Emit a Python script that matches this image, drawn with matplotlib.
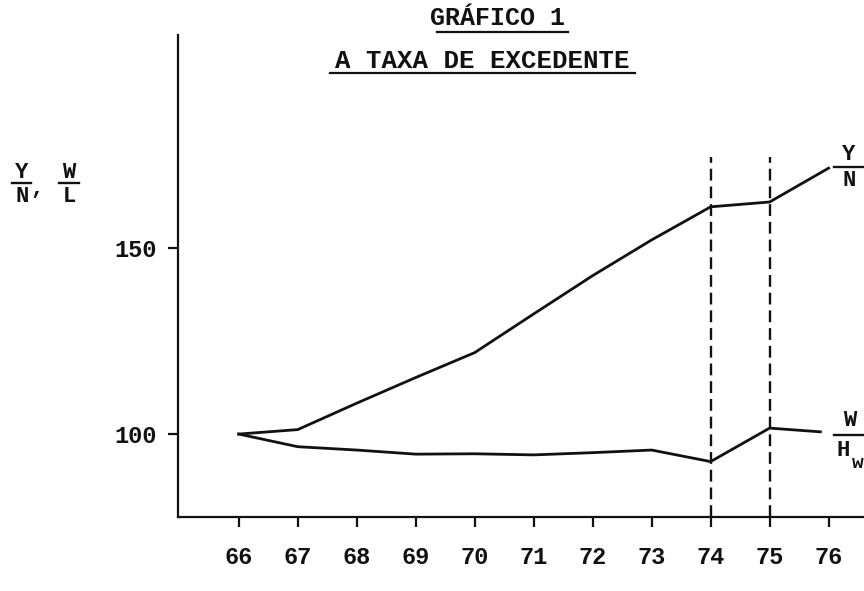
import numpy as np
import matplotlib
matplotlib.use('Agg')
from matplotlib import pyplot as plt
from matplotlib.lines import Line2D

# dados
anos = [66, 67, 68, 69, 70, 71, 72, 73, 74, 75, 76]
anos_yn = [66, 67, 68, 69, 70, 71, 72, 73, 74, 75, 76]
y_n = [100, 101.2, 108.3, 115.2, 121.9, 132.3, 142.6, 152.2, 161.1, 162.4, 171.5]
anos_wh = [66, 67, 68, 69, 70, 71, 72, 73, 74, 75, 75.86]
w_hw = [100, 96.6, 95.7, 94.6, 94.7, 94.4, 95.0, 95.7, 92.6, 101.6, 100.6]
anos_corte = [74, 75]
yticks = [100, 150]

fonte = 'Liberation Mono'
preto = '#111111'

fig = plt.figure(figsize=(8.64, 5.91), dpi=100)
ax = fig.add_axes([178/864, 1-517/591, 1-178/864, (517-35)/591])

ax.plot(anos_yn, y_n, color=preto, linewidth=2.0)
ax.plot(anos_wh, w_hw, color=preto, linewidth=2.0)
ax.vlines(anos_corte, 77.7, 174.5, colors=preto, linestyles=(0, (5, 2.5)), linewidth=1.7)

ax.set_xlim(64.97, 76.6)
ax.set_ylim(77.7, 207.3)
ax.set_xticks(anos)
ax.set_xticklabels([str(a) for a in anos])
ax.set_yticks(yticks)
ax.set_yticklabels([str(v) for v in yticks])
for s in ['top', 'right']:
    ax.spines[s].set_visible(False)
for s in ['left', 'bottom']:
    ax.spines[s].set_linewidth(1.6)
    ax.spines[s].set_color(preto)
ax.tick_params(axis='x', direction='out', length=7, width=1.6, pad=14, colors=preto)
ax.tick_params(axis='y', direction='out', length=7, width=1.6, pad=8, colors=preto)
for lab in ax.get_xticklabels() + ax.get_yticklabels():
    lab.set_fontfamily(fonte)
    lab.set_fontsize(17)
    lab.set_fontweight('bold')


def px(x, y):
    return x/864, 1 - y/591


def txt(x, y, s, size=16, **kw):
    fig.text(*px(x, y), s, fontfamily=fonte, fontsize=size, fontweight='bold',
             ha='center', va='center', color=preto, **kw)


def barra(x0, x1, y, lw=1.7):
    a = px(x0, y)
    b = px(x1, y)
    fig.add_artist(Line2D([a[0], b[0]], [a[1], b[1]], color=preto, linewidth=lw,
                          transform=fig.transFigure))


# titulo
txt(497, 18, 'GRÁFICO 1', size=18)
barra(437, 568, 32, lw=1.6)
txt(482, 61, 'A TAXA DE EXCEDENTE', size=18.5)
barra(330, 635, 73, lw=1.6)

# rotulo do eixo y
txt(22, 172, 'Y', size=16)
barra(12, 31, 183)
txt(22, 196, 'N', size=16)
txt(37, 189, ',', size=16)
txt(69, 172, 'W', size=16)
barra(59, 79, 183)
txt(69, 196, 'L', size=16)

# rotulos das series
txt(849, 154, 'Y', size=16)
barra(834, 864, 167)
txt(849, 181, 'N', size=16)
txt(850, 420, 'W', size=16)
barra(834, 864, 435)
txt(843, 450, 'H', size=16)
txt(858, 464, 'w', size=14)

plt.savefig('out.png', dpi=100)
